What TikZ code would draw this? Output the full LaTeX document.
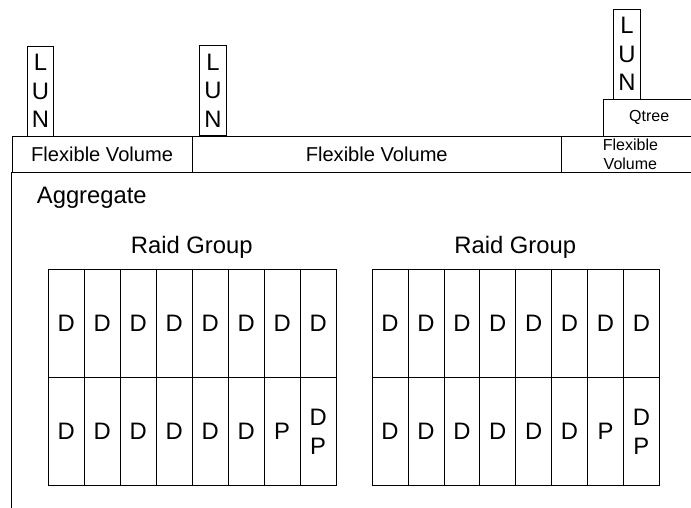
\documentclass[tikz,border=0pt]{standalone}
\usepackage{fontspec}
\setmainfont{Liberation Sans}
\begin{document}
\begin{tikzpicture}[x=1pt,y=-1pt,line width=0.8pt,
  bigfont/.style={font=\fontsize{23.8}{28.3}\selectfont},
  cell/.style={draw,inner sep=0pt,anchor=north west,minimum width=36pt,minimum height=108pt,align=center,bigfont},
  lunbox/.style={draw,inner sep=0pt,anchor=north west,minimum width=26.7pt,minimum height=90pt,align=center,bigfont},
  volbox/.style={draw,inner sep=0pt,anchor=north west,minimum height=36pt,align=center},
  label/.style={inner sep=0pt,bigfont}]
\path[use as bounding box,clip] (0,0) rectangle (691,508);
% aggregate outline (left side and top)
\coordinate (aggtop) at (11.7,171.7);
\coordinate (aggbot) at (11.7,520);
\draw (aggtop) -- (aggbot);
% flexible volumes
\node[volbox,minimum width=180pt,font=\fontsize{20.1}{23}\selectfont] (fv1) at (11.7,135.7) {Flexible Volume};
\node[volbox,minimum width=369.3pt,font=\fontsize{20.1}{23}\selectfont] (fv2) at (191.7,135.7) {Flexible Volume};
\node[volbox,minimum width=138pt,font=\fontsize{16}{19.3}\selectfont] (fv3) at (561,135.7) {Flexible\\Volume};
\node[volbox,minimum width=91pt,minimum height=36.7pt,font=\fontsize{16}{19}\selectfont] (qt) at (603.3,99) {Qtree};
% LUNs
\node[lunbox] (lun1) at (26.7,45.7) {L\\U\\N};
\node[lunbox] (lun2) at (199.3,45.2) {L\\U\\N};
\node[lunbox] (lun3) at (613.3,8.7) {L\\U\\N};
% labels
\node[label,anchor=base west] (agg) at (36.5,204) {Aggregate};
\node[label,anchor=base] (rg1) at (191.7,253) {Raid Group};
\node[label,anchor=base] (rg2) at (515.3,253) {Raid Group};
% raid group 1
\foreach \i in {0,...,7} {
  \node[cell] (a\i) at ({47.7+36*\i},269.3) {D};
}
\foreach \i/\t in {0/D,1/D,2/D,3/D,4/D,5/D,6/P,7/{D\\P}} {
  \node[cell] (b\i) at ({47.7+36*\i},377.3) {\t};
}
% raid group 2
\foreach \i in {0,...,7} {
  \node[cell,minimum width=35.9pt] (c\i) at ({371.7+35.9*\i},269.3) {D};
}
\foreach \i/\t in {0/D,1/D,2/D,3/D,4/D,5/D,6/P,7/{D\\P}} {
  \node[cell,minimum width=35.9pt] (d\i) at ({371.7+35.9*\i},377.3) {\t};
}
\end{tikzpicture}
\end{document}
